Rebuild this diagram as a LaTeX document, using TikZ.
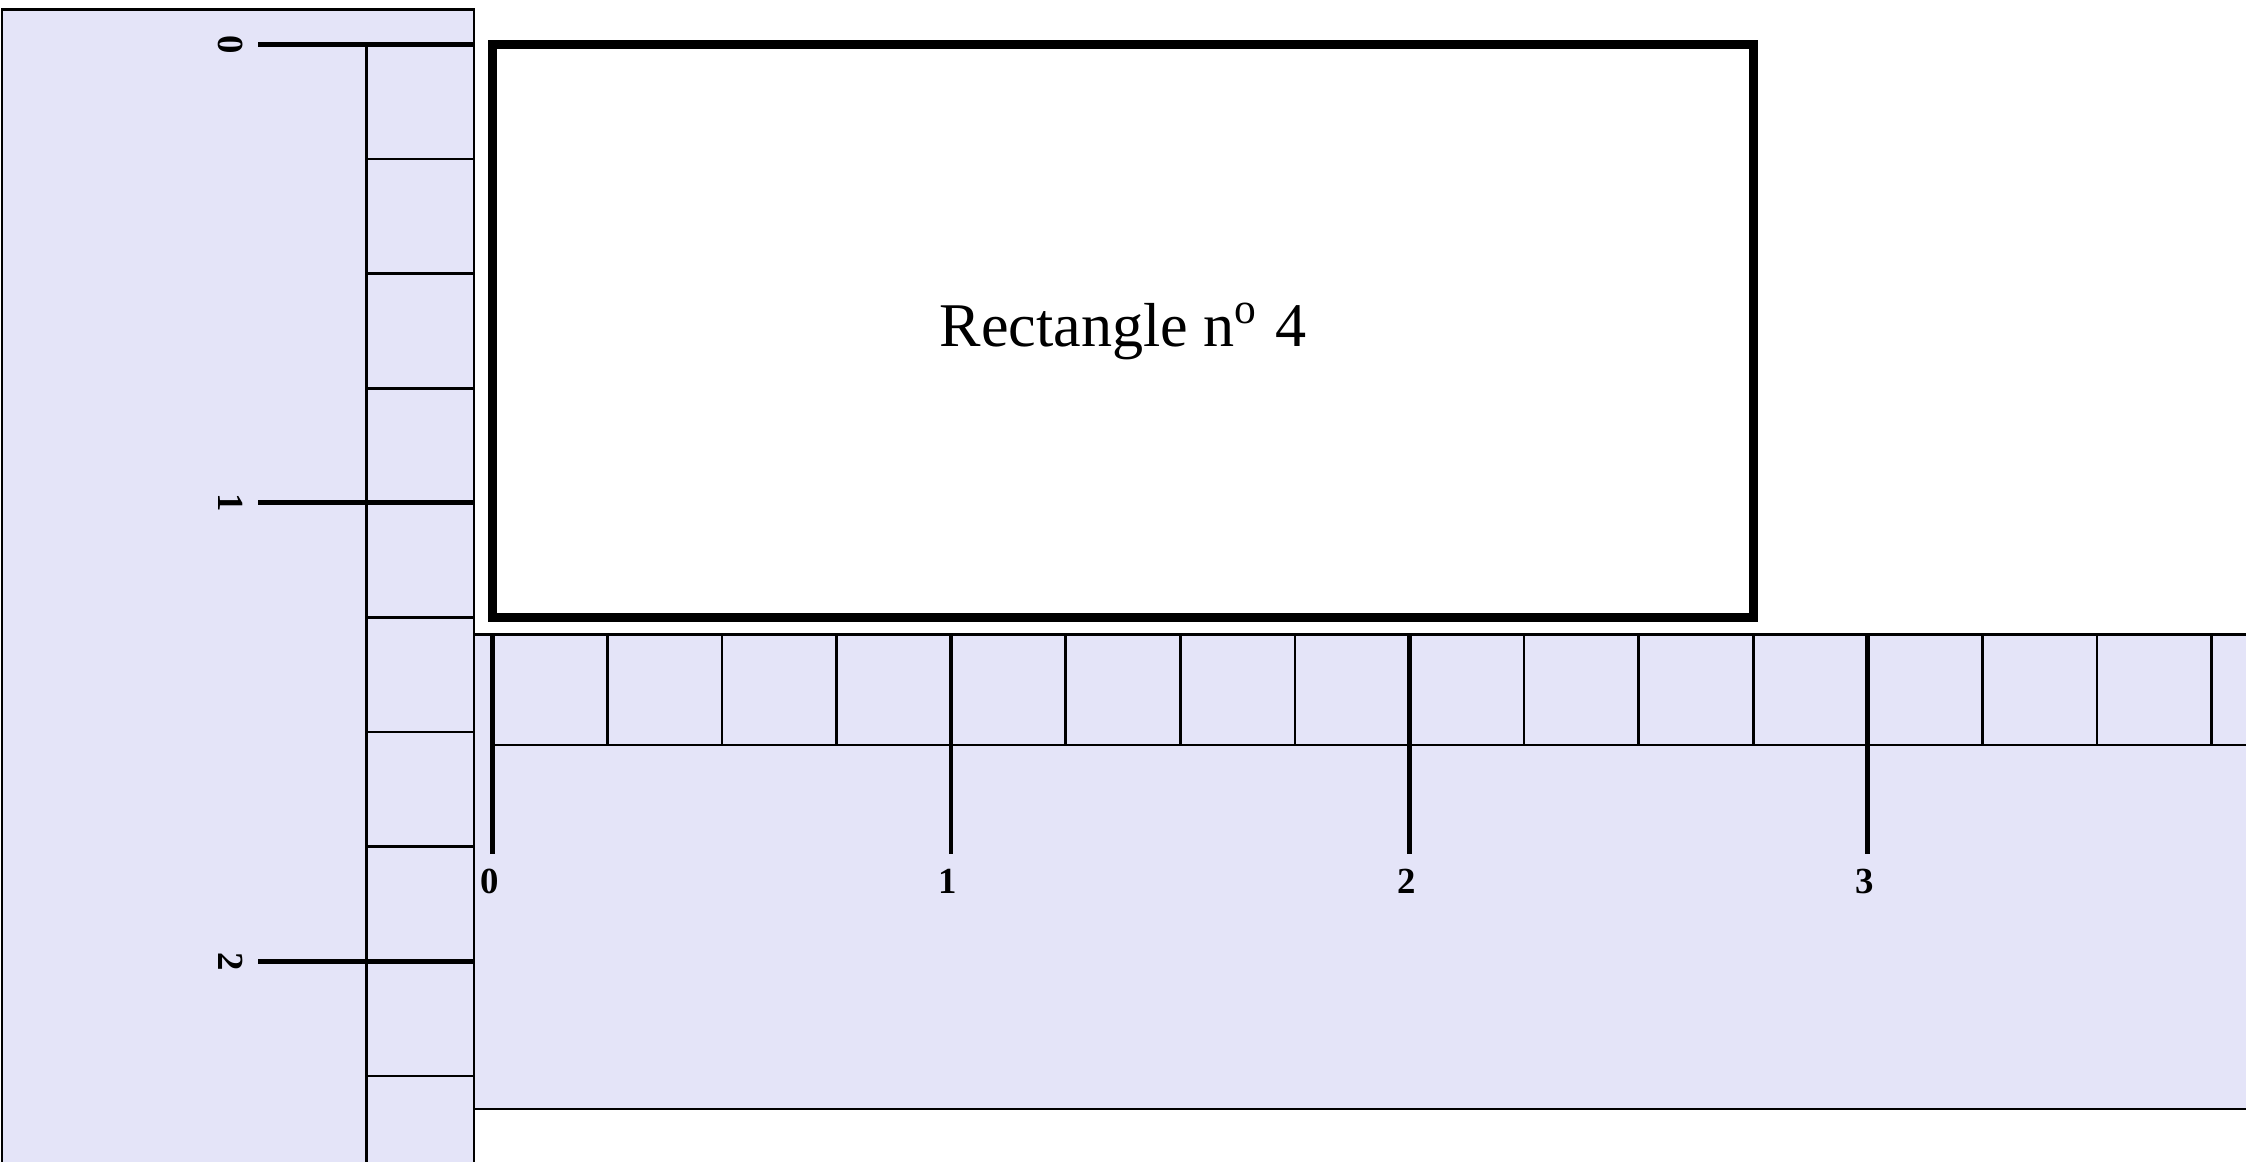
\documentclass[tikz,border=0pt]{standalone}
\usepackage{fontspec}
\setmainfont{Liberation Serif}
\usetikzlibrary{positioning}

\definecolor{rulerbg}{HTML}{E4E4F8}

\tikzset{
  minortick/.style = {line width=0.4pt},
  majortick/.style = {line width=0.75pt},
  rulerlabel/.style = {font=\fontsize{5.8}{6}\selectfont\bfseries, inner sep=2.2pt},
  rectbox/.style = {draw, line width=1.4pt, outer sep=0pt, inner sep=0pt,
                    minimum width=2.75in, minimum height=1.25in,
                    font=\fontsize{9.8}{12}\selectfont},
}

\begin{document}
\begin{tikzpicture}[x=1in, y=1in]
  \useasboundingbox (-1.075,-2.436) rectangle (3.825,0.097);
  \clip (-1.075,-2.436) rectangle (3.825,0.097);

  \coordinate (o) at (0,0);

  % vertical ruler
  \draw[minortick, fill=rulerbg] (-1.071,-2.7) rectangle (-0.041,0.076);
  \draw[minortick] (-0.275,0) -- (-0.275,-2.7);
  \foreach \k in {1,2,3,5,6,7,9,10}
    \draw[minortick] (-0.275,-\k/4) -- (-0.041,-\k/4);
  \foreach \n in {0,1,2} {
    \draw[majortick] (-0.041,-\n) -- (-0.5125,-\n) coordinate (v\n);
    \node[rulerlabel, rotate=-90, anchor=north] (lv\n) at (v\n) {\n};
  }

  % horizontal ruler
  \draw[minortick, fill=rulerbg] (-0.041,-1.2875) rectangle (4,-2.322);
  \draw[minortick] (0,-1.528) -- (4,-1.528);
  \foreach \k in {1,2,3,5,6,7,9,10,11,13,14,15}
    \draw[minortick] (\k/4,-1.2875) -- (\k/4,-1.528);
  \foreach \n in {0,1,2,3} {
    \draw[majortick] (\n,-1.2875) -- (\n,-1.766) coordinate (h\n);
    \node[rulerlabel, below=0pt of h\n, xshift=-0.5pt] (lh\n) {\n};
  }

  \node[rectbox, below right=0pt of o] (r) {Rectangle n\textsuperscript{o}~4};
\end{tikzpicture}
\end{document}
